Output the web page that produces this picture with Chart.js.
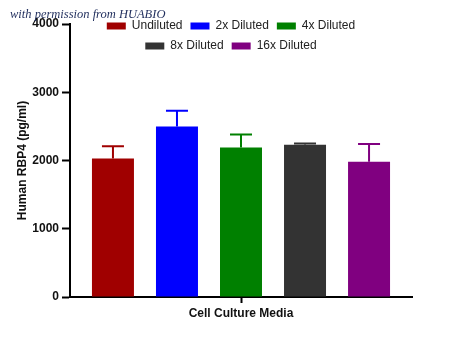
<!DOCTYPE html>
<html>
<head>
<meta charset="utf-8">
<script src="https://cdn.jsdelivr.net/npm/chart.js@4/dist/chart.umd.min.js"></script>
<style>
  body { margin: 0; background: #fff; }
  #wrap { width: 450px; height: 337px; }
</style>
</head>
<body>
<div id="wrap"><canvas id="chart"></canvas></div>
<script>
const categories = ['Cell Culture Media'];
const seriesNames = ['Undiluted', '2x Diluted', '4x Diluted', '8x Diluted', '16x Diluted'];
const means = [2030, 2500, 2190, 2230, 1980];
const errors = [180, 230, 190, 20, 260];
const yTicks = [0, 1000, 2000, 3000, 4000];

const colors = ['#a00000', '#0000ff', '#008000', '#333333', '#800080'];

const errorBars = {
    id: 'errorBars',
    afterDatasetsDraw(chart) {
        const ctx = chart.ctx;
        const y = chart.scales.y;
        chart.data.datasets.forEach((ds, i) => {
            const meta = chart.getDatasetMeta(i);
            meta.data.forEach((bar, j) => {
                const top = y.getPixelForValue(ds.data[j] + ds.errors[j]);
                ctx.save();
                ctx.strokeStyle = ds.backgroundColor;
                ctx.lineWidth = 2;
                ctx.beginPath();
                ctx.moveTo(bar.x, bar.y);
                ctx.lineTo(bar.x, top);
                ctx.moveTo(bar.x - 11, top);
                ctx.lineTo(bar.x + 11, top);
                ctx.stroke();
                ctx.restore();
            });
        });
    }
};

// legend overlaps the top of the plot: reserve no space for it, wrap it at 300px,
// then put it back over the plot after layout
const legendOverlay = {
    id: 'legendOverlay',
    afterInit(chart) {
        const lg = chart.legend;
        const update = lg.update.bind(lg);
        lg.update = function (w, h, m) {
            update(300, h, m);
            lg.fullHeight = lg.height;
            lg.height = 0;
        };
    },
    afterLayout(chart) {
        const lg = chart.legend;
        lg.left = 81;
        lg.right = 381;
        lg.width = 300;
        lg.top = 12;
        lg.height = lg.fullHeight;
        lg.bottom = lg.top + lg.height;
    }
};

const watermark = {
    id: 'watermark',
    afterDraw(chart) {
        const ctx = chart.ctx;
        ctx.save();
        ctx.font = 'italic 12.5px "Liberation Serif", serif';
        ctx.fillStyle = '#1f2d5c';
        ctx.textBaseline = 'alphabetic';
        ctx.fillText('with permission from HUABIO', 10, 18);
        ctx.restore();
    }
};

const data = {
    labels: categories,
    datasets: seriesNames.map((name, i) => ({
        label: name,
        data: [means[i]],
        errors: [errors[i]],
        backgroundColor: colors[i],
        borderWidth: 0,
        categoryPercentage: 0.936,
        barPercentage: 0.656,
    })),
};

const config = {
    type: 'bar',
    data: data,
    plugins: [errorBars, legendOverlay, watermark],
    options: {
        responsive: true,
        maintainAspectRatio: false,
        animation: false,
        devicePixelRatio: 1,
        layout: {
            padding: { top: 24, right: 38, left: 0, bottom: 0 },
        },
        plugins: {
            tooltip: { enabled: false },
            legend: {
                position: 'top',
                align: 'center',
                labels: {
                    boxWidth: 19,
                    boxHeight: 7,
                    padding: 8,
                    color: '#222',
                    font: { family: 'Liberation Sans, Arial, sans-serif', size: 12 },
                },
            },
        },
        scales: {
            x: {
                grid: {
                    offset: false,
                    drawOnChartArea: false,
                    tickLength: 6,
                    tickWidth: 2,
                    tickColor: '#000',
                },
                border: { color: '#000', width: 2 },
                ticks: {
                    padding: 3,
                    color: '#111',
                    font: { family: 'Liberation Sans, Arial, sans-serif', size: 12, weight: 'bold' },
                },
                afterFit(scale) { scale.height = 40; },
            },
            y: {
                min: 0,
                max: 4000,
                afterBuildTicks(scale) {
                    scale.ticks = yTicks.map(v => ({ value: v }));
                },
                grid: {
                    drawOnChartArea: false,
                    tickLength: 8,
                    tickWidth: 2,
                    tickColor: '#000',
                },
                border: { color: '#000', width: 2 },
                ticks: {
                    padding: 3,
                    color: '#111',
                    callback: v => String(v),
                    font: { family: 'Liberation Sans, Arial, sans-serif', size: 12, weight: 'bold' },
                },
                title: {
                    display: true,
                    text: 'Human RBP4 (pg/ml)',
                    color: '#111',
                    padding: { top: 15, bottom: 0 },
                    font: { family: 'Liberation Sans, Arial, sans-serif', size: 12, weight: 'bold' },
                },
                afterFit(scale) { scale.width = 70; },
            },
        },
    },
};

const element = document.getElementById('chart');
const chart = new Chart(element, config);
</script>
</body>
</html>
